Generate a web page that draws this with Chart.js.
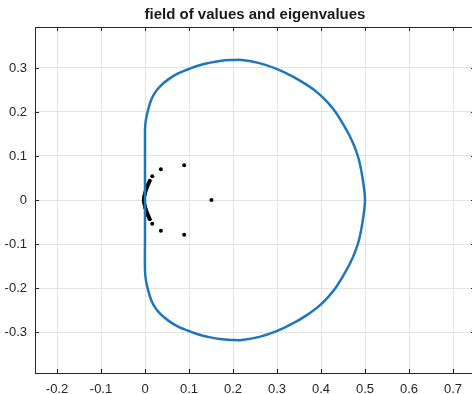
<!DOCTYPE html>
<html>
<head>
<meta charset="utf-8">
<script src="https://cdn.jsdelivr.net/npm/chart.js@4"></script>
<style>
  html, body { margin: 0; padding: 0; background: #fff; overflow: hidden; }
  #wrap { width: 472px; height: 394px; overflow: hidden; }
</style>
</head>
<body>
<div id="wrap"><canvas id="c" width="480" height="394"></canvas></div>
<script>
// field of values boundary, clockwise from (0, 0.16)
const fvX = [0, 0.002, 0.0076, 0.014, 0.0227, 0.036, 0.053, 0.074, 0.098, 0.12, 0.144, 0.17, 0.197, 0.22,
  0.26, 0.299, 0.335, 0.367, 0.392, 0.413, 0.433, 0.451, 0.465, 0.477, 0.486, 0.492, 0.497, 0.5,
  0.497, 0.492, 0.486, 0.477, 0.465, 0.451, 0.433, 0.413, 0.392, 0.367, 0.335, 0.299, 0.26,
  0.22, 0.197, 0.17, 0.144, 0.12, 0.098, 0.074, 0.053, 0.036, 0.0227, 0.014, 0.0076, 0.002, 0,
  0, 0, 0, 0];
const fvY = [0.16, 0.182, 0.207, 0.227, 0.244, 0.26, 0.274, 0.287, 0.297, 0.305, 0.311, 0.316, 0.318, 0.318,
  0.311, 0.298, 0.281, 0.262, 0.244, 0.224, 0.2, 0.171, 0.146, 0.119, 0.092, 0.064, 0.032, 0,
  -0.032, -0.064, -0.092, -0.119, -0.146, -0.171, -0.2, -0.224, -0.244, -0.262, -0.281, -0.298, -0.311,
  -0.318, -0.318, -0.316, -0.311, -0.305, -0.297, -0.287, -0.274, -0.26, -0.244, -0.227, -0.207, -0.182, -0.16,
  -0.08, 0, 0.08, 0.16];

// eigenvalues
const eigX = [0.011, 0.0095, 0.008, 0.0065, 0.005, 0.0035, 0.002, 0.001, 0, -0.001, -0.002, -0.002, -0.003,
  -0.002, -0.002, -0.001, 0, 0.001, 0.002, 0.0035, 0.005, 0.0065, 0.008, 0.0095, 0.011,
  0.0165, 0.036, 0.089, 0.151, 0.089, 0.036, 0.0165];
const eigY = [0.044, 0.041, 0.037, 0.034, 0.03, 0.026, 0.023, 0.019, 0.015, 0.011, 0.007, 0.0035, 0,
  -0.0035, -0.007, -0.011, -0.015, -0.019, -0.023, -0.026, -0.03, -0.034, -0.037, -0.041, -0.044,
  0.054, 0.07, 0.079, 0, -0.079, -0.07, -0.054];

const xTicks = [-0.2, -0.1, 0, 0.1, 0.2, 0.3, 0.4, 0.5, 0.6, 0.7];
const yTicks = [-0.3, -0.2, -0.1, 0, 0.1, 0.2, 0.3];

const axisColor = '#262626';

// box around the axes with inward ticks, like matlab
const boxPlugin = {
  id: 'box',
  afterDraw(chart) {
    const { ctx, chartArea: a, scales } = chart;
    const len = 4;
    ctx.save();
    ctx.strokeStyle = axisColor;
    ctx.lineWidth = 1;
    ctx.strokeRect(a.left + 0.5, a.top + 0.5, a.right - a.left, a.bottom - a.top);
    ctx.beginPath();
    xTicks.forEach(v => {
      const px = Math.round(scales.x.getPixelForValue(v)) + 0.5;
      ctx.moveTo(px, a.bottom); ctx.lineTo(px, a.bottom - len);
      ctx.moveTo(px, a.top); ctx.lineTo(px, a.top + len);
    });
    yTicks.forEach(v => {
      const py = Math.round(scales.y.getPixelForValue(v)) + 0.5;
      ctx.moveTo(a.left, py); ctx.lineTo(a.left + len, py);
      ctx.moveTo(a.right, py); ctx.lineTo(a.right - len, py);
    });
    ctx.stroke();
    ctx.restore();
  }
};

new Chart(document.getElementById('c'), {
  type: 'scatter',
  data: {
    datasets: [
      {
        label: 'field of values',
        data: fvX.map((x, i) => ({ x: x, y: fvY[i] })),
        showLine: true,
        borderColor: 'rgb(30,118,188)',
        borderWidth: 2.5,
        tension: 0.4,
        pointRadius: 0,
        fill: false
      },
      {
        label: 'eigenvalues',
        data: eigX.map((x, i) => ({ x: x, y: eigY[i] })),
        showLine: false,
        pointRadius: 2,
        pointBackgroundColor: '#000',
        pointBorderColor: '#000',
        pointBorderWidth: 0
      }
    ]
  },
  options: {
    responsive: false,
    animation: false,
    devicePixelRatio: 1,
    layout: { padding: { left: 0, right: 5, top: 0, bottom: 0 } },
    plugins: {
      legend: { display: false },
      tooltip: { enabled: false },
      title: {
        display: true,
        text: 'field of values and eigenvalues',
        fullSize: false,
        color: '#1a1a1a',
        font: { family: 'Liberation Sans, Arial, sans-serif', size: 15, weight: 'bold', lineHeight: 1.2 },
        padding: { top: 5.5, bottom: 3.5 }
      }
    },
    scales: {
      x: {
        type: 'linear',
        min: -0.25,
        max: 0.75,
        afterFit: s => { s.height = 21; },
        afterBuildTicks: s => { s.ticks = xTicks.map(v => ({ value: v })); },
        grid: { color: '#e3e3e3', drawTicks: false },
        border: { display: true, color: axisColor },
        ticks: {
          padding: 9,
          color: '#262626',
          maxRotation: 0,
          autoSkip: false,
          font: { family: 'Liberation Sans, Arial, sans-serif', size: 13 },
          callback: v => String(v)
        }
      },
      y: {
        type: 'linear',
        min: -0.393,
        max: 0.393,
        afterFit: s => { s.width = 35; },
        afterBuildTicks: s => { s.ticks = yTicks.map(v => ({ value: v })); },
        grid: { color: '#e3e3e3', drawTicks: false },
        border: { display: true, color: axisColor },
        ticks: {
          padding: 8,
          color: '#262626',
          autoSkip: false,
          font: { family: 'Liberation Sans, Arial, sans-serif', size: 13 },
          callback: v => String(v)
        }
      }
    }
  },
  plugins: [boxPlugin]
});
</script>
</body>
</html>
